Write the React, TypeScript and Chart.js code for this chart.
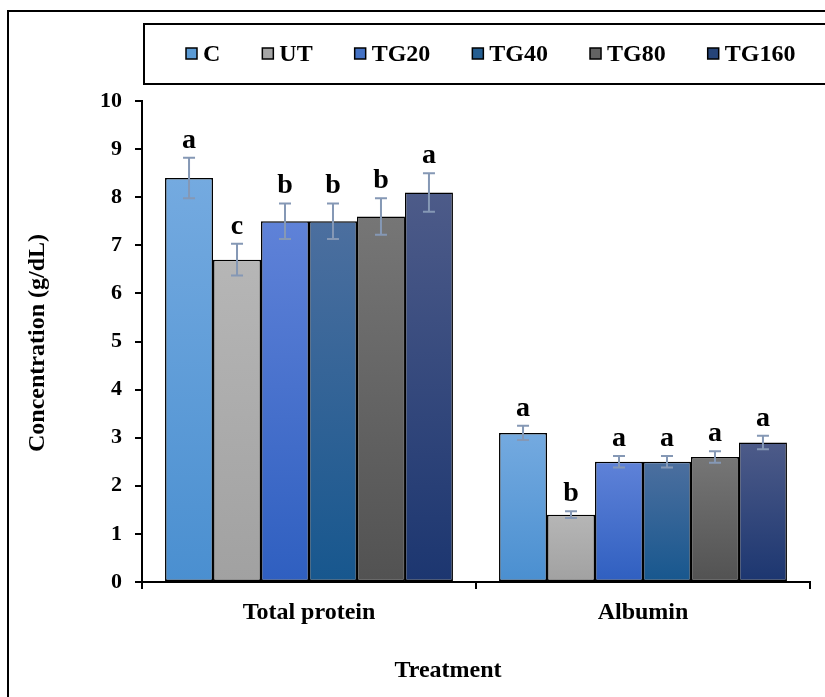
import React, { useEffect, useRef } from 'react';
import { Chart, registerables } from 'chart.js';

Chart.register(...registerables);

// ---------- data ----------
const categories = ['Total protein', 'Albumin'];
const seriesNames = ['C', 'UT', 'TG20', 'TG40', 'TG80', 'TG160'];

const valuesC = [8.4, 3.1];
const valuesUT = [6.7, 1.4];
const valuesTG20 = [7.5, 2.5];
const valuesTG40 = [7.5, 2.5];
const valuesTG80 = [7.6, 2.6];
const valuesTG160 = [8.1, 2.9];

const errC = [0.42, 0.15];
const errUT = [0.33, 0.07];
const errTG20 = [0.37, 0.12];
const errTG40 = [0.37, 0.12];
const errTG80 = [0.38, 0.12];
const errTG160 = [0.4, 0.14];

const lettersC = ['a', 'a'];
const lettersUT = ['c', 'b'];
const lettersTG20 = ['b', 'a'];
const lettersTG40 = ['b', 'a'];
const lettersTG80 = ['b', 'a'];
const lettersTG160 = ['a', 'a'];

const yTicks = [0, 1, 2, 3, 4, 5, 6, 7, 8, 9, 10];
const yTitle = 'Concentration (g/dL)';
const xTitle = 'Treatment';

// ---------- styles ----------
const topColors = ['#74aae0', '#b6b6b6', '#5f82d8', '#4c6f9f', '#767676', '#4d5b89'];
const bottomColors = ['#4a8fd0', '#a1a1a1', '#2f5fc0', '#17578e', '#525252', '#1c3670'];
const legendColors = ['#5b9bd5', '#a5a5a5', '#4472c4', '#255e91', '#636363', '#264478'];
const FONT = "'Liberation Serif', 'Times New Roman', serif";

const allValues = [valuesC, valuesUT, valuesTG20, valuesTG40, valuesTG80, valuesTG160];
const allErrors = [errC, errUT, errTG20, errTG40, errTG80, errTG160];
const allLetters = [lettersC, lettersUT, lettersTG20, lettersTG40, lettersTG80, lettersTG160];

const decorPlugin = {
  id: 'decor',
  beforeDraw(chart: any) {
    const c = chart.ctx;
    c.save();
    c.fillStyle = '#ffffff';
    c.fillRect(0, 0, chart.width, chart.height);
    c.restore();
  },
  afterDatasetsDraw(chart: any) {
    const c = chart.ctx;
    const y = chart.scales.y;
    chart.data.datasets.forEach((ds: any, di: number) => {
      const meta = chart.getDatasetMeta(di);
      meta.data.forEach((el: any, i: number) => {
        const v = ds.data[i];
        const e = ds.errors[i];
        const yTop = y.getPixelForValue(v + e);
        const yBot = y.getPixelForValue(v - e);
        const x = el.x;
        c.save();
        c.strokeStyle = '#8598b5';
        c.lineWidth = 2;
        c.beginPath();
        c.moveTo(x, yTop);
        c.lineTo(x, yBot);
        c.moveTo(x - 6, yTop);
        c.lineTo(x + 6, yTop);
        c.moveTo(x - 6, yBot);
        c.lineTo(x + 6, yBot);
        c.stroke();
        c.fillStyle = '#000000';
        c.font = `bold 28px ${FONT}`;
        c.textAlign = 'center';
        c.textBaseline = 'alphabetic';
        c.fillText(ds.letters[i], x, yTop - 10);
        c.restore();
      });
    });
  },
  afterDraw(chart: any) {
    const c = chart.ctx;
    c.save();
    // outer frame
    c.strokeStyle = '#000000';
    c.lineWidth = 2;
    c.strokeRect(8, 11, 2000, 2000);
    // legend frame
    c.strokeRect(144, 24, 2000, 60);
    // legend items
    c.font = `bold 24px ${FONT}`;
    c.textBaseline = 'middle';
    c.textAlign = 'left';
    let x = 186;
    const cy = 54;
    chart.data.datasets.forEach((ds: any, di: number) => {
      c.fillStyle = legendColors[di];
      c.fillRect(x, cy - 6, 11, 11);
      c.lineWidth = 1.5;
      c.strokeStyle = '#000000';
      c.strokeRect(x, cy - 6, 11, 11);
      c.fillStyle = '#000000';
      c.fillText(ds.label, x + 17, cy + 1);
      const w = c.measureText(ds.label).width;
      x = x + 17 + w + 42;
    });
    // axis titles
    c.font = `bold 24px ${FONT}`;
    c.textAlign = 'center';
    c.textBaseline = 'middle';
    c.fillText(xTitle, 448, 671);
    c.translate(38, 343);
    c.rotate(-Math.PI / 2);
    c.fillText(yTitle, 0, 0);
    c.restore();
  },
};

export default function App() {
  const ref = useRef<HTMLCanvasElement | null>(null);
  useEffect(() => {
    if (!ref.current) return;
    const datasets = seriesNames.map((name, di) => ({
      label: name,
      data: allValues[di],
      errors: allErrors[di],
      letters: allLetters[di],
      backgroundColor: (ctx: any) => {
        const chart = ctx.chart;
        const ys = chart.scales && chart.scales.y;
        if (!ys || ctx.type !== 'data' || typeof ctx.raw !== 'number') return legendColors[di];
        const top = ys.getPixelForValue(ctx.raw);
        const bottom = ys.getPixelForValue(0);
        if (!isFinite(top) || !isFinite(bottom) || top === bottom) return legendColors[di];
        const g = chart.ctx.createLinearGradient(0, top, 0, bottom);
        g.addColorStop(0, topColors[di]);
        g.addColorStop(1, bottomColors[di]);
        return g;
      },
      borderColor: '#000000',
      borderWidth: 1.5,
      borderSkipped: false,
      categoryPercentage: 0.862,
      barPercentage: 1.0,
    }));
    const chart = new Chart(ref.current, {
      type: 'bar',
      data: { labels: categories, datasets: datasets as any },
      options: {
        responsive: false,
        animation: false,
        devicePixelRatio: 1,
        layout: { padding: { top: 101, right: 15, left: 0, bottom: 0 } },
        plugins: {
          legend: { display: false },
          tooltip: { enabled: false },
        },
        scales: {
          x: {
            grid: {
              offset: true,
              drawOnChartArea: false,
              drawTicks: true,
              tickLength: 7,
              color: '#000000',
              lineWidth: 2,
            },
            border: { display: true, color: '#000000', width: 2 },
            ticks: {
              color: '#000000',
              font: { family: FONT, size: 24, weight: 'bold' },
              padding: 9,
            },
            afterFit: (s: any) => {
              s.height = 697 - 582;
            },
          },
          y: {
            min: 0,
            max: 10,
            afterBuildTicks: (s: any) => {
              s.ticks = yTicks.map((v) => ({ value: v }));
            },
            grid: {
              drawOnChartArea: false,
              drawTicks: true,
              tickLength: 7,
              color: '#000000',
              lineWidth: 2,
            },
            border: { display: true, color: '#000000', width: 2 },
            ticks: {
              color: '#000000',
              font: { family: FONT, size: 22, weight: 'bold' },
              padding: 13,
            },
            afterFit: (s: any) => {
              s.width = 142;
            },
          },
        },
      },
      plugins: [decorPlugin],
    });
    return () => chart.destroy();
  }, []);
  return (
    <div style={{ position: 'absolute', left: 0, top: 0, width: 825, height: 697 }}>
      <canvas ref={ref} width={825} height={697} style={{ display: 'block', width: 825, height: 697 }} />
    </div>
  );
}
